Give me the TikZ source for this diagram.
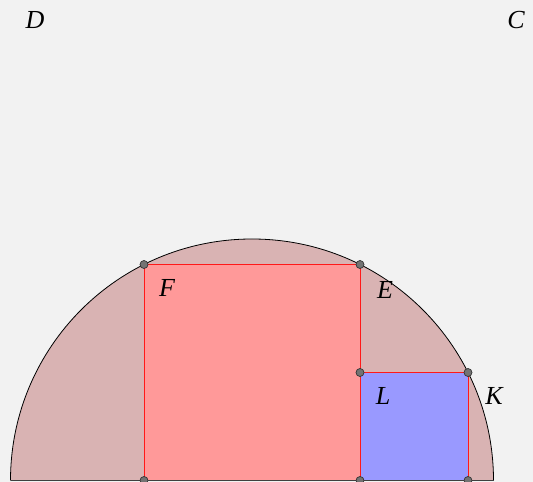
\documentclass[tikz,border=0pt]{standalone}
\usepackage{fontspec}
\setmainfont{Liberation Serif}
\begin{document}
\begin{tikzpicture}[x=1pt,y=1pt,
  lab/.style={font=\fontsize{26}{26}\selectfont\itshape, inner sep=0pt},
  pt/.style={circle, fill=gray!90!black, draw=black!80, line width=0.7pt, minimum size=8pt, inner sep=0pt},
  sq/.style={draw=red!90, line width=0.8pt}]
\definecolor{bgc}{HTML}{F2F2F2}
\definecolor{semi}{HTML}{D9B3B3}
\definecolor{bigsq}{HTML}{FF9999}
\definecolor{smsq}{HTML}{9999FF}
\fill[bgc] (0,0) rectangle (533,482);
\useasboundingbox (0,0) rectangle (533,482);
% coordinates (y up, origin bottom-left)
\coordinate (O) at (252,1.5);
\coordinate (A0) at (10.5,1.5);
\coordinate (B0) at (493.5,1.5);
% semicircle
\fill[semi] (A0) arc[start angle=180,end angle=0,radius=241.5] -- cycle;
\draw[black, line width=0.8pt] (A0) arc[start angle=180,end angle=0,radius=241.5];
\draw[black!75, line width=1pt] (A0) -- (B0);
% big square
\coordinate (P1) at (144,1.5);
\coordinate (P2) at (360,1.5);
\coordinate (Fp) at (144,217.5);
\coordinate (Ep) at (360,217.5);
\fill[bigsq] (P1) rectangle (Ep);
% small square
\coordinate (P3) at (468,1.5);
\coordinate (Lp) at (360,109.5);
\coordinate (Kp) at (468,109.5);
\fill[smsq] (P2) rectangle (Kp);
\draw[sq] (P1) -- (Fp) -- (Ep) -- (P2);
\draw[sq] (Lp) -- (Kp) -- (P3);
% points
\foreach \p in {Fp,Ep,Lp,Kp,P1,P2,P3} \node[pt] at (\p) {};
% labels
\node[lab] (D) at (35,462) {D};
\node[lab] (C) at (516,462) {C};
\node[lab] (F) at (167,194) {F};
\node[lab] (E) at (385,192) {E};
\node[lab] (L) at (383,86) {L};
\node[lab] (K) at (494,86) {K};
\end{tikzpicture}
\end{document}
